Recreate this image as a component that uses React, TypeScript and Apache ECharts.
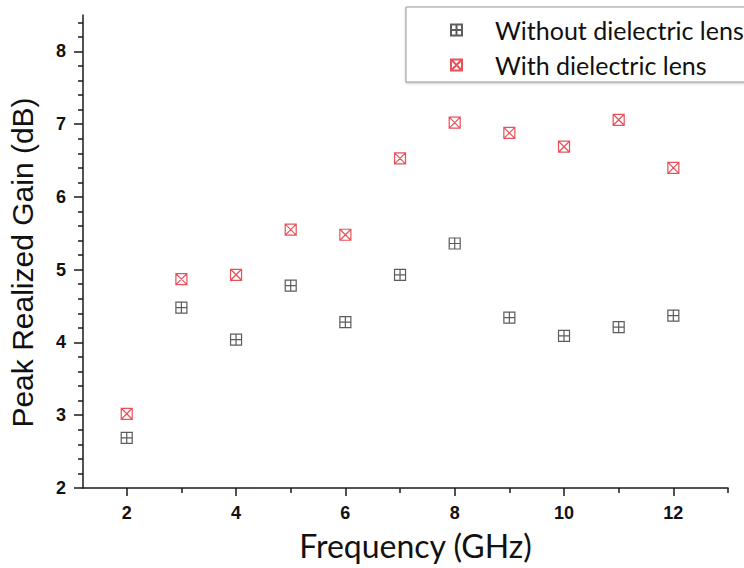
import React, { useEffect, useRef } from "react";
import * as echarts from "echarts";

const frequencies = [2, 3, 4, 5, 6, 7, 8, 9, 10, 11, 12];
const withoutLens = [2.69, 4.48, 4.04, 4.78, 4.28, 4.93, 5.36, 4.34, 4.09, 4.21, 4.37];
const withLens = [3.02, 4.87, 4.93, 5.55, 5.48, 6.53, 7.02, 6.88, 6.69, 7.06, 6.4];
const seriesNames = ["Without dielectric lens", "With dielectric lens"];
const xMajorTicks = [2, 4, 6, 8, 10, 12];
const xMinorTicks = [3, 5, 7, 9, 11, 13];
const yMajorTicks = [2, 3, 4, 5, 6, 7, 8];
const yMinorTicks: number[] = [];
for (let i = 0; i < 32; i++) {
  const v = Math.round((2.2 + i * 0.2) * 10) / 10;
  if (Math.abs(v - Math.round(v)) > 0.01) yMinorTicks.push(v);
}

const PLUS_BOX = "path://M0,0H11V11H0Z M5.5,0V11 M0,5.5H11";
const CROSS_BOX = "path://M0,0H11V11H0Z M0,0L11,11 M11,0L0,11";

const AXIS_COLOR = "#1a1a1a";
const X_MIN = 1.2;
const X_MAX = 13;
const Y_MIN = 2;
const Y_MAX = 8.5;

export default function App() {
  const ref = useRef<HTMLDivElement>(null);
  useEffect(() => {
    if (!ref.current) return;
    const chart = echarts.init(ref.current, null, { renderer: "svg" });
    const tickLabel = {
      fontFamily: "Liberation Sans",
      fontWeight: "bold" as const,
      fontSize: 18,
      color: "#111",
    };
    chart.setOption({
      animation: false,
      backgroundColor: "#ffffff",
      grid: { left: 83, right: 16, top: 15, bottom: 80, containLabel: false, outerBoundsMode: "none" },
      legend: {
        orient: "vertical",
        left: 406,
        top: 7,
        padding: [10, 60, 4, 44],
        itemWidth: 11,
        itemHeight: 11,
        itemGap: 9,
        borderColor: "#999",
        borderWidth: 1,
        backgroundColor: "#fff",
        shadowColor: "rgba(0,0,0,0.25)",
        shadowBlur: 2,
        shadowOffsetY: 1,
        textStyle: {
          fontFamily: "Lato",
          fontSize: 25,
          lineHeight: 26,
          color: "#111",
          padding: [0, 0, 0, 28],
        },
        data: seriesNames,
      },
      xAxis: [
        {
          type: "value",
          min: X_MIN,
          max: X_MAX,
          name: "Frequency (GHz)",
          nameLocation: "middle",
          nameGap: 41,
          nameTextStyle: {
            fontFamily: "Lato",
            fontSize: 32,
            color: "#111",
            padding: [0, 0, 0, 20],
          },
          axisLine: { show: true, onZero: false, lineStyle: { color: AXIS_COLOR, width: 1.5 } },
          axisTick: { show: true, inside: false, length: 8, customValues: xMajorTicks, lineStyle: { color: AXIS_COLOR, width: 1.5 } },
          axisLabel: { ...tickLabel, margin: 16, customValues: xMajorTicks },
          splitLine: { show: false },
        },
        {
          type: "value",
          min: X_MIN,
          max: X_MAX,
          position: "bottom",
          axisLine: { show: false, onZero: false },
          axisTick: { show: true, inside: false, length: 5, customValues: xMinorTicks, lineStyle: { color: AXIS_COLOR, width: 1.5 } },
          axisLabel: { show: false, customValues: xMinorTicks },
          splitLine: { show: false },
        },
      ],
      yAxis: [
        {
          type: "value",
          min: Y_MIN,
          max: Y_MAX,
          name: "Peak Realized Gain (dB)",
          nameLocation: "middle",
          nameGap: 46,
          nameTextStyle: {
            fontFamily: "Liberation Sans",
            fontSize: 30,
            color: "#111",
            padding: [0, 22, 0, 0],
          },
          axisLine: { show: true, onZero: false, lineStyle: { color: AXIS_COLOR, width: 1.5 } },
          axisTick: { show: true, inside: false, length: 9, customValues: yMajorTicks, lineStyle: { color: AXIS_COLOR, width: 1.5 } },
          axisLabel: { ...tickLabel, margin: 17, customValues: yMajorTicks },
          splitLine: { show: false },
        },
        {
          type: "value",
          min: Y_MIN,
          max: Y_MAX,
          position: "left",
          axisLine: { show: false, onZero: false },
          axisTick: { show: true, inside: false, length: 5, customValues: yMinorTicks, lineStyle: { color: AXIS_COLOR, width: 1.5 } },
          axisLabel: { show: false, customValues: yMinorTicks },
          splitLine: { show: false },
        },
      ],
      series: [
        {
          name: seriesNames[0],
          type: "scatter",
          xAxisIndex: 0,
          yAxisIndex: 0,
          symbol: PLUS_BOX,
          symbolSize: 11,
          itemStyle: { color: "rgba(0,0,0,0)", borderColor: "#333", borderWidth: 1.2 },
          data: frequencies.map((f, i) => [f, withoutLens[i]]),
        },
        {
          name: seriesNames[1],
          type: "scatter",
          xAxisIndex: 0,
          yAxisIndex: 0,
          symbol: CROSS_BOX,
          symbolSize: 11,
          itemStyle: { color: "rgba(0,0,0,0)", borderColor: "#e3262f", borderWidth: 1.2 },
          data: frequencies.map((f, i) => [f, withLens[i]]),
        },
      ],
    });
    return () => chart.dispose();
  }, []);
  return (
    <div
      ref={ref}
      style={{ position: "absolute", left: 0, top: 0, width: 744, height: 568 }}
    />
  );
}
